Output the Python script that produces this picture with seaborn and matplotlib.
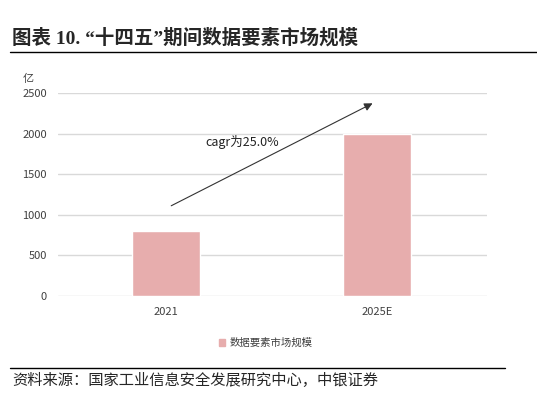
import matplotlib
matplotlib.use("Agg")
import matplotlib.pyplot as plt
import pandas as pd
import seaborn as sns

# data
years = ["2021", "2025E"]
market_size = [800, 1990]
series_name = "数据要素市场规模"
y_ticks = [0, 500, 1000, 1500, 2000, 2500]

sns.set_theme(style="white")
plt.rcParams["font.family"] = ["Noto Sans CJK SC", "DejaVu Sans"]

df = pd.DataFrame({"year": years, "size": market_size, "series": series_name})

fig = plt.figure(figsize=(5.37, 3.96), dpi=100)
ax = fig.add_axes([0.108, 0.2525, 0.799, 0.5125])

sns.barplot(data=df, x="year", y="size", hue="series", palette=["#E7ADAD"],
            width=0.32, ax=ax, legend=False, saturation=1)

ax.set_xlim(-0.51, 1.52)
ax.set_ylim(0, 2500)
ax.set_yticks(y_ticks)
ax.set_yticklabels([str(t) for t in y_ticks], fontsize=8, color="#404040")
ax.tick_params(axis="x", labelsize=8, labelcolor="#404040", length=0, pad=8)
ax.tick_params(axis="y", length=0, pad=8)
ax.yaxis.grid(True, color="#D9D9D9", linewidth=1.0)
ax.set_axisbelow(True)
for s in ax.spines.values():
    s.set_visible(False)
ax.set_xlabel("")
ax.set_ylabel("")
ax.text(-0.07, 1.07, "亿", transform=ax.transAxes, fontsize=8, color="#404040",
        ha="center", va="center")

# cagr arrow
ax.annotate("", xy=(0.99, 2389), xytext=(0.014, 1096),
            arrowprops=dict(arrowstyle="-|>", color="#333333", lw=0.8,
                            mutation_scale=12))
ax.text(0.36, 1897, "cagr为25.0%", fontsize=9, color="#222222",
        ha="center", va="center")

# legend
handle = plt.Rectangle((0, 0), 1, 1, color="#E7ADAD")
fig.legend([handle], [series_name], loc="center", bbox_to_anchor=(0.495, 0.134),
           frameon=False, fontsize=7.5, handlelength=0.6, handleheight=0.6,
           handletextpad=0.4, labelcolor="#404040")

# title and rules
fig.text(0.022, 0.905, "图表 10. “十四五”期间数据要素市场规模", fontsize=14,
         fontweight="bold", ha="left", va="center",
         family=["Liberation Serif", "Noto Sans CJK SC"])
fig.add_artist(plt.Line2D([0.019, 1.0], [0.869, 0.869], color="black", lw=1.0))
fig.add_artist(plt.Line2D([0.019, 0.94], [0.071, 0.071], color="black", lw=1.0))
fig.text(0.022, 0.038, "资料来源：国家工业信息安全发展研究中心，中银证券", fontsize=11,
         ha="left", va="center", style="italic")

fig.savefig("out.png", dpi=100)
